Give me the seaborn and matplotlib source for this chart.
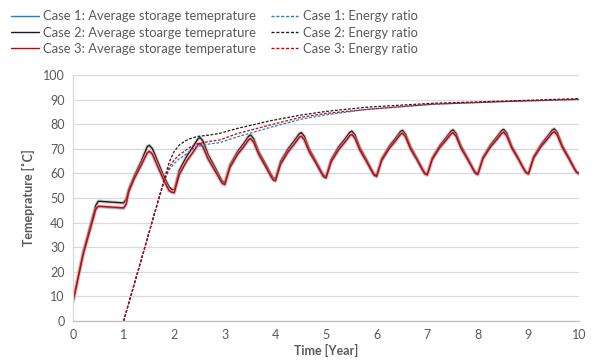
import matplotlib
matplotlib.use("Agg")
import matplotlib.pyplot as plt
import matplotlib.patheffects as pe
import seaborn as sns

# ---------------- data ----------------
t_temp = [0.00, 0.05, 0.20, 0.45, 0.50, 1.00, 1.05, 1.10, 1.20, 1.35, 1.47, 1.51, 1.57, 1.67, 1.80, 1.90, 1.95,
          2.00, 2.10, 2.25, 2.37, 2.47, 2.51, 2.57, 2.67, 2.80, 2.90, 2.95,
          3.00, 3.10, 3.25, 3.37, 3.47, 3.51, 3.57, 3.67, 3.80, 3.90, 3.95,
          4.00, 4.10, 4.25, 4.37, 4.47, 4.51, 4.57, 4.67, 4.80, 4.90, 4.95,
          5.00, 5.10, 5.25, 5.37, 5.47, 5.51, 5.57, 5.67, 5.80, 5.90, 5.95,
          6.00, 6.10, 6.25, 6.37, 6.47, 6.51, 6.57, 6.67, 6.80, 6.90, 6.95,
          7.00, 7.10, 7.25, 7.37, 7.47, 7.51, 7.57, 7.67, 7.80, 7.90, 7.95,
          8.00, 8.10, 8.25, 8.37, 8.47, 8.51, 8.57, 8.67, 8.80, 8.90, 8.95,
          9.00, 9.10, 9.25, 9.37, 9.47, 9.51, 9.57, 9.67, 9.80, 9.90, 9.95,
          10.00]

temp_case2 = [8.0, 13.0, 28.0, 47.0, 48.7, 48.0, 49.5, 53.5, 58.5, 65.0, 71.0, 71.4, 70.0, 65.0, 58.5, 54.5, 53.5,
              53.3, 61.2, 67.1, 70.8, 74.1, 74.6, 73.1, 67.6, 62.7, 58.7, 56.8,
              56.3, 63.4, 68.8, 72.1, 75.1, 75.6, 74.1, 68.8, 64.0, 60.1, 58.3,
              57.8, 64.8, 70.0, 73.2, 76.1, 76.6, 75.1, 69.8, 65.0, 61.1, 59.3,
              58.8, 65.6, 70.8, 73.9, 76.7, 77.2, 75.7, 70.4, 65.6, 61.6, 59.8,
              59.3, 66.0, 71.1, 74.2, 77.0, 77.5, 76.0, 70.8, 66.0, 62.1, 60.3,
              59.8, 66.4, 71.4, 74.5, 77.2, 77.7, 76.2, 71.0, 66.2, 62.3, 60.5,
              60.0, 66.6, 71.6, 74.7, 77.4, 77.9, 76.4, 71.1, 66.3, 62.4, 60.6,
              60.1, 66.8, 71.8, 74.9, 77.6, 78.1, 76.6, 71.3, 66.5, 62.5, 60.7,
              60.2]

temp_case3 = [8.0, 12.5, 27.0, 45.5, 46.7, 46.0, 47.5, 52.5, 57.5, 63.5, 68.5, 69.0, 67.8, 63.0, 57.0, 53.0, 52.4,
              52.2, 59.6, 65.2, 68.6, 71.7, 72.2, 70.7, 65.9, 61.3, 57.7, 56.0,
              55.5, 62.4, 67.7, 70.8, 73.7, 74.2, 72.7, 67.7, 63.0, 59.2, 57.5,
              57.0, 63.7, 68.8, 71.9, 74.7, 75.2, 73.7, 68.7, 64.2, 60.4, 58.7,
              58.2, 64.7, 69.7, 72.7, 75.4, 75.9, 74.4, 69.4, 64.8, 61.0, 59.3,
              58.8, 65.3, 70.2, 73.2, 75.9, 76.4, 74.9, 69.9, 65.4, 61.6, 59.9,
              59.4, 65.8, 70.6, 73.5, 76.1, 76.6, 75.1, 70.1, 65.6, 61.8, 60.1,
              59.6, 66.0, 70.8, 73.7, 76.3, 76.8, 75.3, 70.3, 65.8, 62.0, 60.3,
              59.8, 66.2, 71.0, 73.9, 76.5, 77.0, 75.5, 70.5, 65.9, 62.1, 60.4,
              59.9]

temp_case1 = [8.0, 12.5, 26.8, 45.3, 46.4, 45.7, 47.3, 52.3, 57.3, 63.3, 68.3, 68.8, 67.6, 62.8, 56.8, 52.8, 52.2,
              52.0, 59.4, 65.0, 68.4, 71.5, 72.0, 70.5, 65.7, 61.1, 57.5, 55.8,
              55.3, 62.2, 67.5, 70.6, 73.5, 74.0, 72.5, 67.5, 62.8, 59.0, 57.3,
              56.8, 63.5, 68.6, 71.7, 74.5, 75.0, 73.5, 68.5, 64.0, 60.2, 58.5,
              58.0, 64.5, 69.5, 72.5, 75.2, 75.7, 74.2, 69.2, 64.6, 60.8, 59.1,
              58.6, 65.1, 70.0, 73.0, 75.7, 76.2, 74.7, 69.7, 65.2, 61.4, 59.7,
              59.2, 65.6, 70.4, 73.3, 75.9, 76.4, 74.9, 69.9, 65.4, 61.6, 59.9,
              59.4, 65.8, 70.6, 73.5, 76.1, 76.6, 75.1, 70.1, 65.6, 61.8, 60.1,
              59.6, 66.0, 70.8, 73.7, 76.3, 76.8, 75.3, 70.3, 65.7, 61.9, 60.2,
              59.7]

t_ratio = [1.0, 1.2, 1.4, 1.6, 1.8, 1.9, 2.0, 2.1, 2.2, 2.3, 2.45, 2.7, 2.9, 3.25, 3.9, 4.5, 5.0, 5.8, 7.1, 8.4, 10.0]
ratio_case2 = [0, 14.3, 28.6, 43.0, 57.4, 64.5, 69.0, 71.5, 73.0, 74.0, 75.0, 75.6, 76.3, 78.3, 81.4, 83.7, 85.2, 86.9, 88.5, 89.3, 90.4]
ratio_case3 = [0, 14.3, 28.6, 43.0, 57.0, 62.5, 65.5, 67.5, 69.0, 70.5, 72.0, 73.0, 73.6, 76.2, 79.7, 82.8, 84.4, 86.0, 88.1, 89.1, 90.1]
ratio_case1 = [0, 14.3, 28.6, 43.0, 56.8, 61.5, 64.0, 66.0, 67.3, 69.0, 71.0, 72.0, 72.5, 74.9, 78.7, 82.0, 83.8, 86.0, 88.1, 89.1, 90.1]

labels_temp = ["Case 1: Average storage temeprature",
               "Case 2: Average stoarge temeprature",
               "Case 3: Average storage temperature"]
labels_ratio = ["Case 1: Energy ratio", "Case 2: Energy ratio", "Case 3: Energy ratio"]
x_ticks = [0, 1, 2, 3, 4, 5, 6, 7, 8, 9, 10]
y_ticks = [0, 10, 20, 30, 40, 50, 60, 70, 80, 90, 100]

# ---------------- style ----------------
sns.set_style("white")
plt.rcParams["font.family"] = ["Lato", "DejaVu Sans"]
text_col = "#595959"
c_blue, c_black, c_red = "#1F7FD0", "#1a1a1a", "#D00000"
halo = {c_blue: "#A9CFEF", c_black: "#A8A8A8", c_red: "#F2AAAA"}

fig = plt.figure(figsize=(5.97, 3.64), dpi=100)
ax = fig.add_axes([0.1223, 0.118, 0.8477, 0.676])

temps = [(temp_case1, c_blue, labels_temp[0]),
         (temp_case2, c_black, labels_temp[1]),
         (temp_case3, c_red, labels_temp[2])]
for vals, col, lab in temps:
    sns.lineplot(x=t_temp, y=vals, ax=ax, color=col, linewidth=1.0, label=lab,
                 sort=False, estimator=None)
    ln = ax.lines[-1]
    ln.set_path_effects([pe.Stroke(linewidth=2.6, foreground=halo[col], alpha=0.5), pe.Normal()])

ratios = [(ratio_case1, c_blue, labels_ratio[0]),
          (ratio_case2, c_black, labels_ratio[1]),
          (ratio_case3, c_red, labels_ratio[2])]
for vals, col, lab in ratios:
    sns.lineplot(x=t_ratio, y=vals, ax=ax, color=col, linewidth=0.9, label=lab,
                 sort=False, estimator=None)
    ln = ax.lines[-1]
    ln.set_dashes([2.2, 1.3])

ax.set_xlim(0, 10)
ax.set_ylim(0, 100)
ax.set_xticks(x_ticks)
ax.set_yticks(y_ticks)
ax.tick_params(axis="both", length=0, labelsize=9.0, labelcolor=text_col, pad=6)
ax.yaxis.grid(True, color="#D9D9D9", linewidth=0.9)
ax.xaxis.grid(False)
ax.set_axisbelow(True)
for s in ["top", "right"]:
    ax.spines[s].set_visible(False)
ax.spines["left"].set_color("#D9D9D9")
ax.spines["bottom"].set_color("#BFBFBF")
ax.spines["left"].set_linewidth(0.9)
ax.spines["bottom"].set_linewidth(0.9)

ax.set_xlabel("Time [Year]", fontsize=9.0, fontweight="bold", color=text_col, labelpad=2)
ax.set_ylabel("Temeprature [˚C]", fontsize=9.0, fontweight="bold", color=text_col, labelpad=6)

handles, labs = ax.get_legend_handles_labels()
ax.get_legend().remove()
leg = fig.legend(handles, labs, ncol=2, loc="upper left", bbox_to_anchor=(0.01, 0.986),
                 frameon=False, fontsize=9.4, handlelength=2.1, handletextpad=0.35,
                 columnspacing=1.1, labelspacing=0.33, borderaxespad=0.0)
for txt in leg.get_texts():
    txt.set_color(text_col)
for hl in leg.get_lines():
    hl.set_path_effects([])
    hl.set_linewidth(1.0)

fig.savefig("out.png", dpi=100)
